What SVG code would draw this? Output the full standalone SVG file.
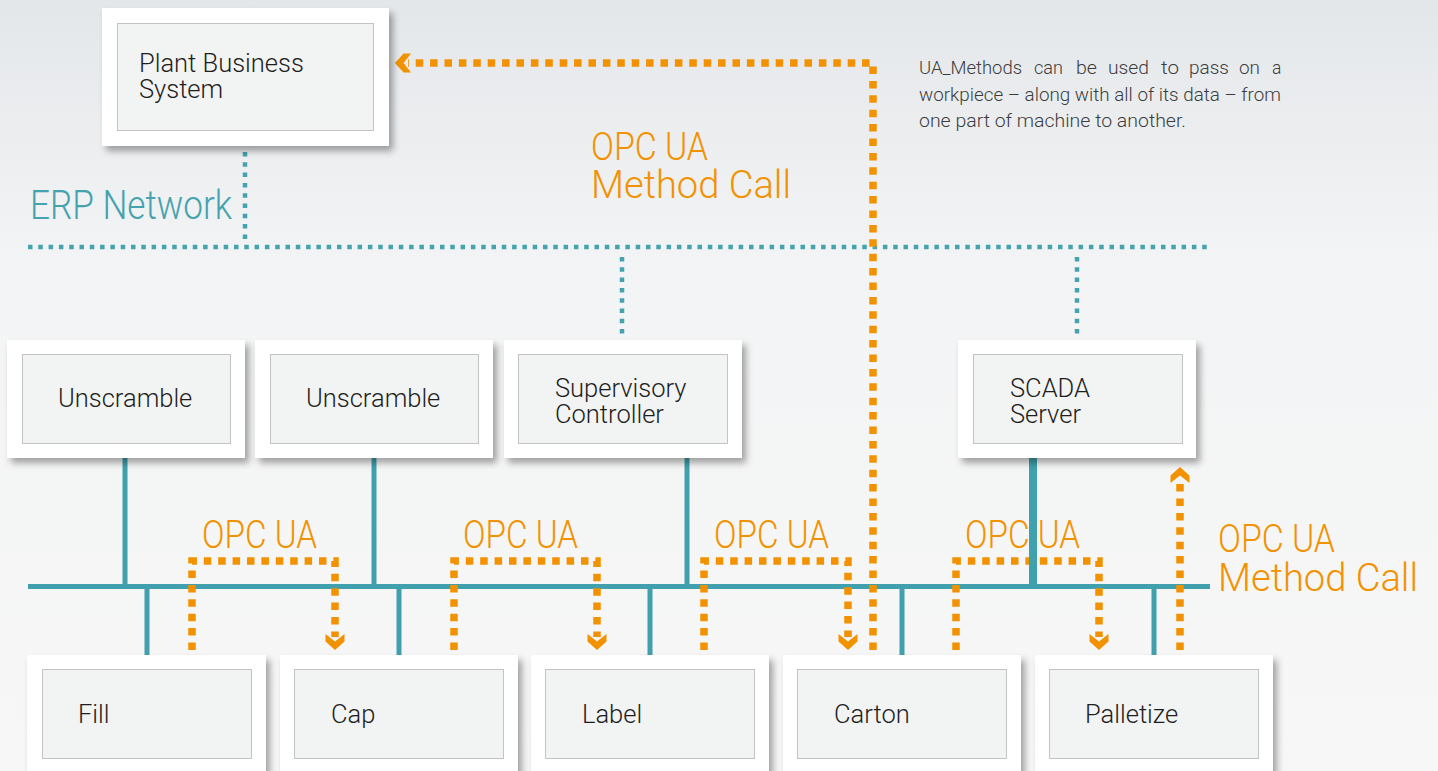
<svg xmlns="http://www.w3.org/2000/svg" xmlns:xlink="http://www.w3.org/1999/xlink" width="1438" height="771" viewBox="0 0 1438 771">
  <style>
    .outer { fill: #ffffff; filter: url(#shadow); }
    .inner { fill: #f2f3f3; stroke: #8c8c8c; stroke-width: 1; stroke-dasharray: 1 1; }
    .ntext { font-family: Roboto, "Liberation Sans", sans-serif; font-weight: 300; font-size: 25.5px; fill: #1e1e1e; }
    .orange-lbl { font-family: Roboto, "Liberation Sans", sans-serif; font-weight: 300; font-size: 38px; fill: #f39200; }
    .teal-lbl { font-family: Roboto, "Liberation Sans", sans-serif; font-weight: 300; font-size: 40px; fill: #45a2af; }
    .desc { font-family: Roboto, "Liberation Sans", sans-serif; font-weight: 300; font-size: 17.5px; fill: #3c3c3c; }
    .teal-dot { fill: none; stroke: #45a2af; stroke-width: 4.5; stroke-dasharray: 4.5 5.8; }
    .teal-solid { fill: none; stroke: #40a0ad; stroke-width: 5; }
    .orange-dot { fill: none; stroke: #f39200; stroke-width: 7.5; stroke-dasharray: 7.5 6.9; }
    .chev { fill: #f39200; }
  </style>
  <defs>
    <filter id="shadow" x="-10%" y="-10%" width="125%" height="130%">
      <feDropShadow dx="4" dy="5" stdDeviation="3.5" flood-color="#000000" flood-opacity="0.35"/>
    </filter>
    <linearGradient id="bg" x1="0" y1="0" x2="0" y2="1">
      <stop offset="0" stop-color="#e4e7ea"/>
      <stop offset="0.35" stop-color="#f3f4f5"/>
      <stop offset="1" stop-color="#f7f7f7"/>
    </linearGradient>
    <path id="chev" d="M-9.5,-16 L0,-8.5 L9.5,-16 L9.5,-8.5 L0,0 L-9.5,-8.5 Z"/>
  </defs>

  <rect x="0" y="0" width="1438" height="771" fill="url(#bg)"/>

  <!-- labels -->
  <g id="labels">
    <text class="teal-lbl" x="30" y="219" textLength="202" lengthAdjust="spacingAndGlyphs">ERP Network</text>
    <text class="orange-lbl" x="591" y="160" textLength="117" lengthAdjust="spacingAndGlyphs">OPC UA</text>
    <text class="orange-lbl" x="591" y="198" textLength="200" lengthAdjust="spacingAndGlyphs">Method Call</text>
    <text class="orange-lbl" x="1218" y="552" textLength="117" lengthAdjust="spacingAndGlyphs">OPC UA</text>
    <text class="orange-lbl" x="1218" y="591" textLength="200" lengthAdjust="spacingAndGlyphs">Method Call</text>
    <text class="orange-lbl" x="202" y="548" textLength="115" lengthAdjust="spacingAndGlyphs">OPC UA</text>
    <text class="orange-lbl" x="463" y="548" textLength="115" lengthAdjust="spacingAndGlyphs">OPC UA</text>
    <text class="orange-lbl" x="714" y="548" textLength="115" lengthAdjust="spacingAndGlyphs">OPC UA</text>
    <text class="orange-lbl" x="965" y="548" textLength="115" lengthAdjust="spacingAndGlyphs">OPC UA</text>
  </g>
  <g id="description">
    <text class="desc" x="919" y="74" textLength="103" lengthAdjust="spacingAndGlyphs">UA_Methods</text>
    <text class="desc" x="1034" y="74" textLength="29" lengthAdjust="spacingAndGlyphs">can</text>
    <text class="desc" x="1076" y="74" textLength="21" lengthAdjust="spacingAndGlyphs">be</text>
    <text class="desc" x="1108" y="74" textLength="41" lengthAdjust="spacingAndGlyphs">used</text>
    <text class="desc" x="1161" y="74" textLength="18" lengthAdjust="spacingAndGlyphs">to</text>
    <text class="desc" x="1189" y="74" textLength="40" lengthAdjust="spacingAndGlyphs">pass</text>
    <text class="desc" x="1239" y="74" textLength="21" lengthAdjust="spacingAndGlyphs">on</text>
    <text class="desc" x="1272" y="74">a</text>
    <text class="desc" x="919" y="101" textLength="362" lengthAdjust="spacingAndGlyphs">workpiece – along with all of its data – from</text>
    <text class="desc" x="919" y="127" textLength="267" lengthAdjust="spacingAndGlyphs">one part of machine to another.</text>
  </g>

  <!-- connectors -->
  <g id="connectors">
    <!-- ERP network -->
    <path class="teal-dot" d="M28,247 H1210"/>
    <path class="teal-dot" d="M245,152 V240"/>
    <path class="teal-dot" d="M622,257 V336"/>
    <path class="teal-dot" d="M1077,257 V336"/>
    <!-- control bus -->
    <path class="teal-solid" d="M28,586.5 H1210"/>
    <path class="teal-solid" d="M125,458 V586"/>
    <path class="teal-solid" d="M374,458 V586"/>
    <path class="teal-solid" d="M687,458 V586"/>
    <path class="teal-solid" d="M147,587 V655"/>
    <path class="teal-solid" d="M399,587 V655"/>
    <path class="teal-solid" d="M650,587 V655"/>
    <path class="teal-solid" d="M902,587 V655"/>
    <path class="teal-solid" d="M1154,587 V655"/>
    <!-- OPC UA peer connections -->
    <path class="orange-dot" d="M192,650 V561 H335 V637"/>
    <use href="#chev" class="chev" transform="translate(335,650)"/>
    <path class="orange-dot" d="M454,650 V561 H597 V637"/>
    <use href="#chev" class="chev" transform="translate(597,650)"/>
    <path class="orange-dot" d="M704,650 V561 H848 V637"/>
    <use href="#chev" class="chev" transform="translate(848,650)"/>
    <path class="orange-dot" d="M956,650 V561 H1099 V637"/>
    <use href="#chev" class="chev" transform="translate(1099,650)"/>
    <!-- Method call Carton -> Plant Business System -->
    <path class="orange-dot" d="M873,650 V63 H408"/>
    <use href="#chev" class="chev" transform="translate(395,63) rotate(90)"/>
    <!-- Method call Palletize -> SCADA -->
    <path class="orange-dot" d="M1180,650 V481"/>
    <use href="#chev" class="chev" transform="translate(1180,467) rotate(180)"/>
    <path class="teal-solid" style="stroke-width:8" d="M1033,458 V586"/>
  </g>

  <!-- nodes -->
  <g id="plant-business-system">
    <rect class="outer" x="102" y="8" width="287" height="138"/>
    <rect class="inner" x="117.5" y="23.5" width="256" height="107"/>
    <text class="ntext" x="139" y="72">Plant Business</text>
    <text class="ntext" x="139" y="98">System</text>
  </g>
  <g id="unscramble-1">
    <rect class="outer" x="7" y="340" width="238" height="118"/>
    <rect class="inner" x="22.5" y="354.5" width="208" height="89"/>
    <text class="ntext" x="58" y="407">Unscramble</text>
  </g>
  <g id="unscramble-2">
    <rect class="outer" x="255" y="340" width="238" height="118"/>
    <rect class="inner" x="270.5" y="354.5" width="208" height="89"/>
    <text class="ntext" x="306" y="407">Unscramble</text>
  </g>
  <g id="supervisory-controller">
    <rect class="outer" x="504" y="340" width="238" height="118"/>
    <rect class="inner" x="518.5" y="354.5" width="209" height="89"/>
    <text class="ntext" x="555" y="397">Supervisory</text>
    <text class="ntext" x="555" y="423">Controller</text>
  </g>
  <g id="scada-server">
    <rect class="outer" x="958" y="340" width="238" height="118"/>
    <rect class="inner" x="973.5" y="354.5" width="209" height="89"/>
    <text class="ntext" x="1010" y="397">SCADA</text>
    <text class="ntext" x="1010" y="423">Server</text>
  </g>
  <g id="fill">
    <rect class="outer" x="27" y="655" width="239" height="130"/>
    <rect class="inner" x="42.5" y="669.5" width="209" height="89"/>
    <text class="ntext" x="78" y="723">Fill</text>
  </g>
  <g id="cap">
    <rect class="outer" x="280" y="655" width="238" height="130"/>
    <rect class="inner" x="294.5" y="669.5" width="209" height="89"/>
    <text class="ntext" x="331" y="723">Cap</text>
  </g>
  <g id="label">
    <rect class="outer" x="531" y="655" width="238" height="130"/>
    <rect class="inner" x="545.5" y="669.5" width="209" height="89"/>
    <text class="ntext" x="582" y="723">Label</text>
  </g>
  <g id="carton">
    <rect class="outer" x="783" y="655" width="238" height="130"/>
    <rect class="inner" x="797.5" y="669.5" width="209" height="89"/>
    <text class="ntext" x="834" y="723">Carton</text>
  </g>
  <g id="palletize">
    <rect class="outer" x="1035" y="655" width="238" height="130"/>
    <rect class="inner" x="1049.5" y="669.5" width="209" height="89"/>
    <text class="ntext" x="1085" y="723">Palletize</text>
  </g>
</svg>
